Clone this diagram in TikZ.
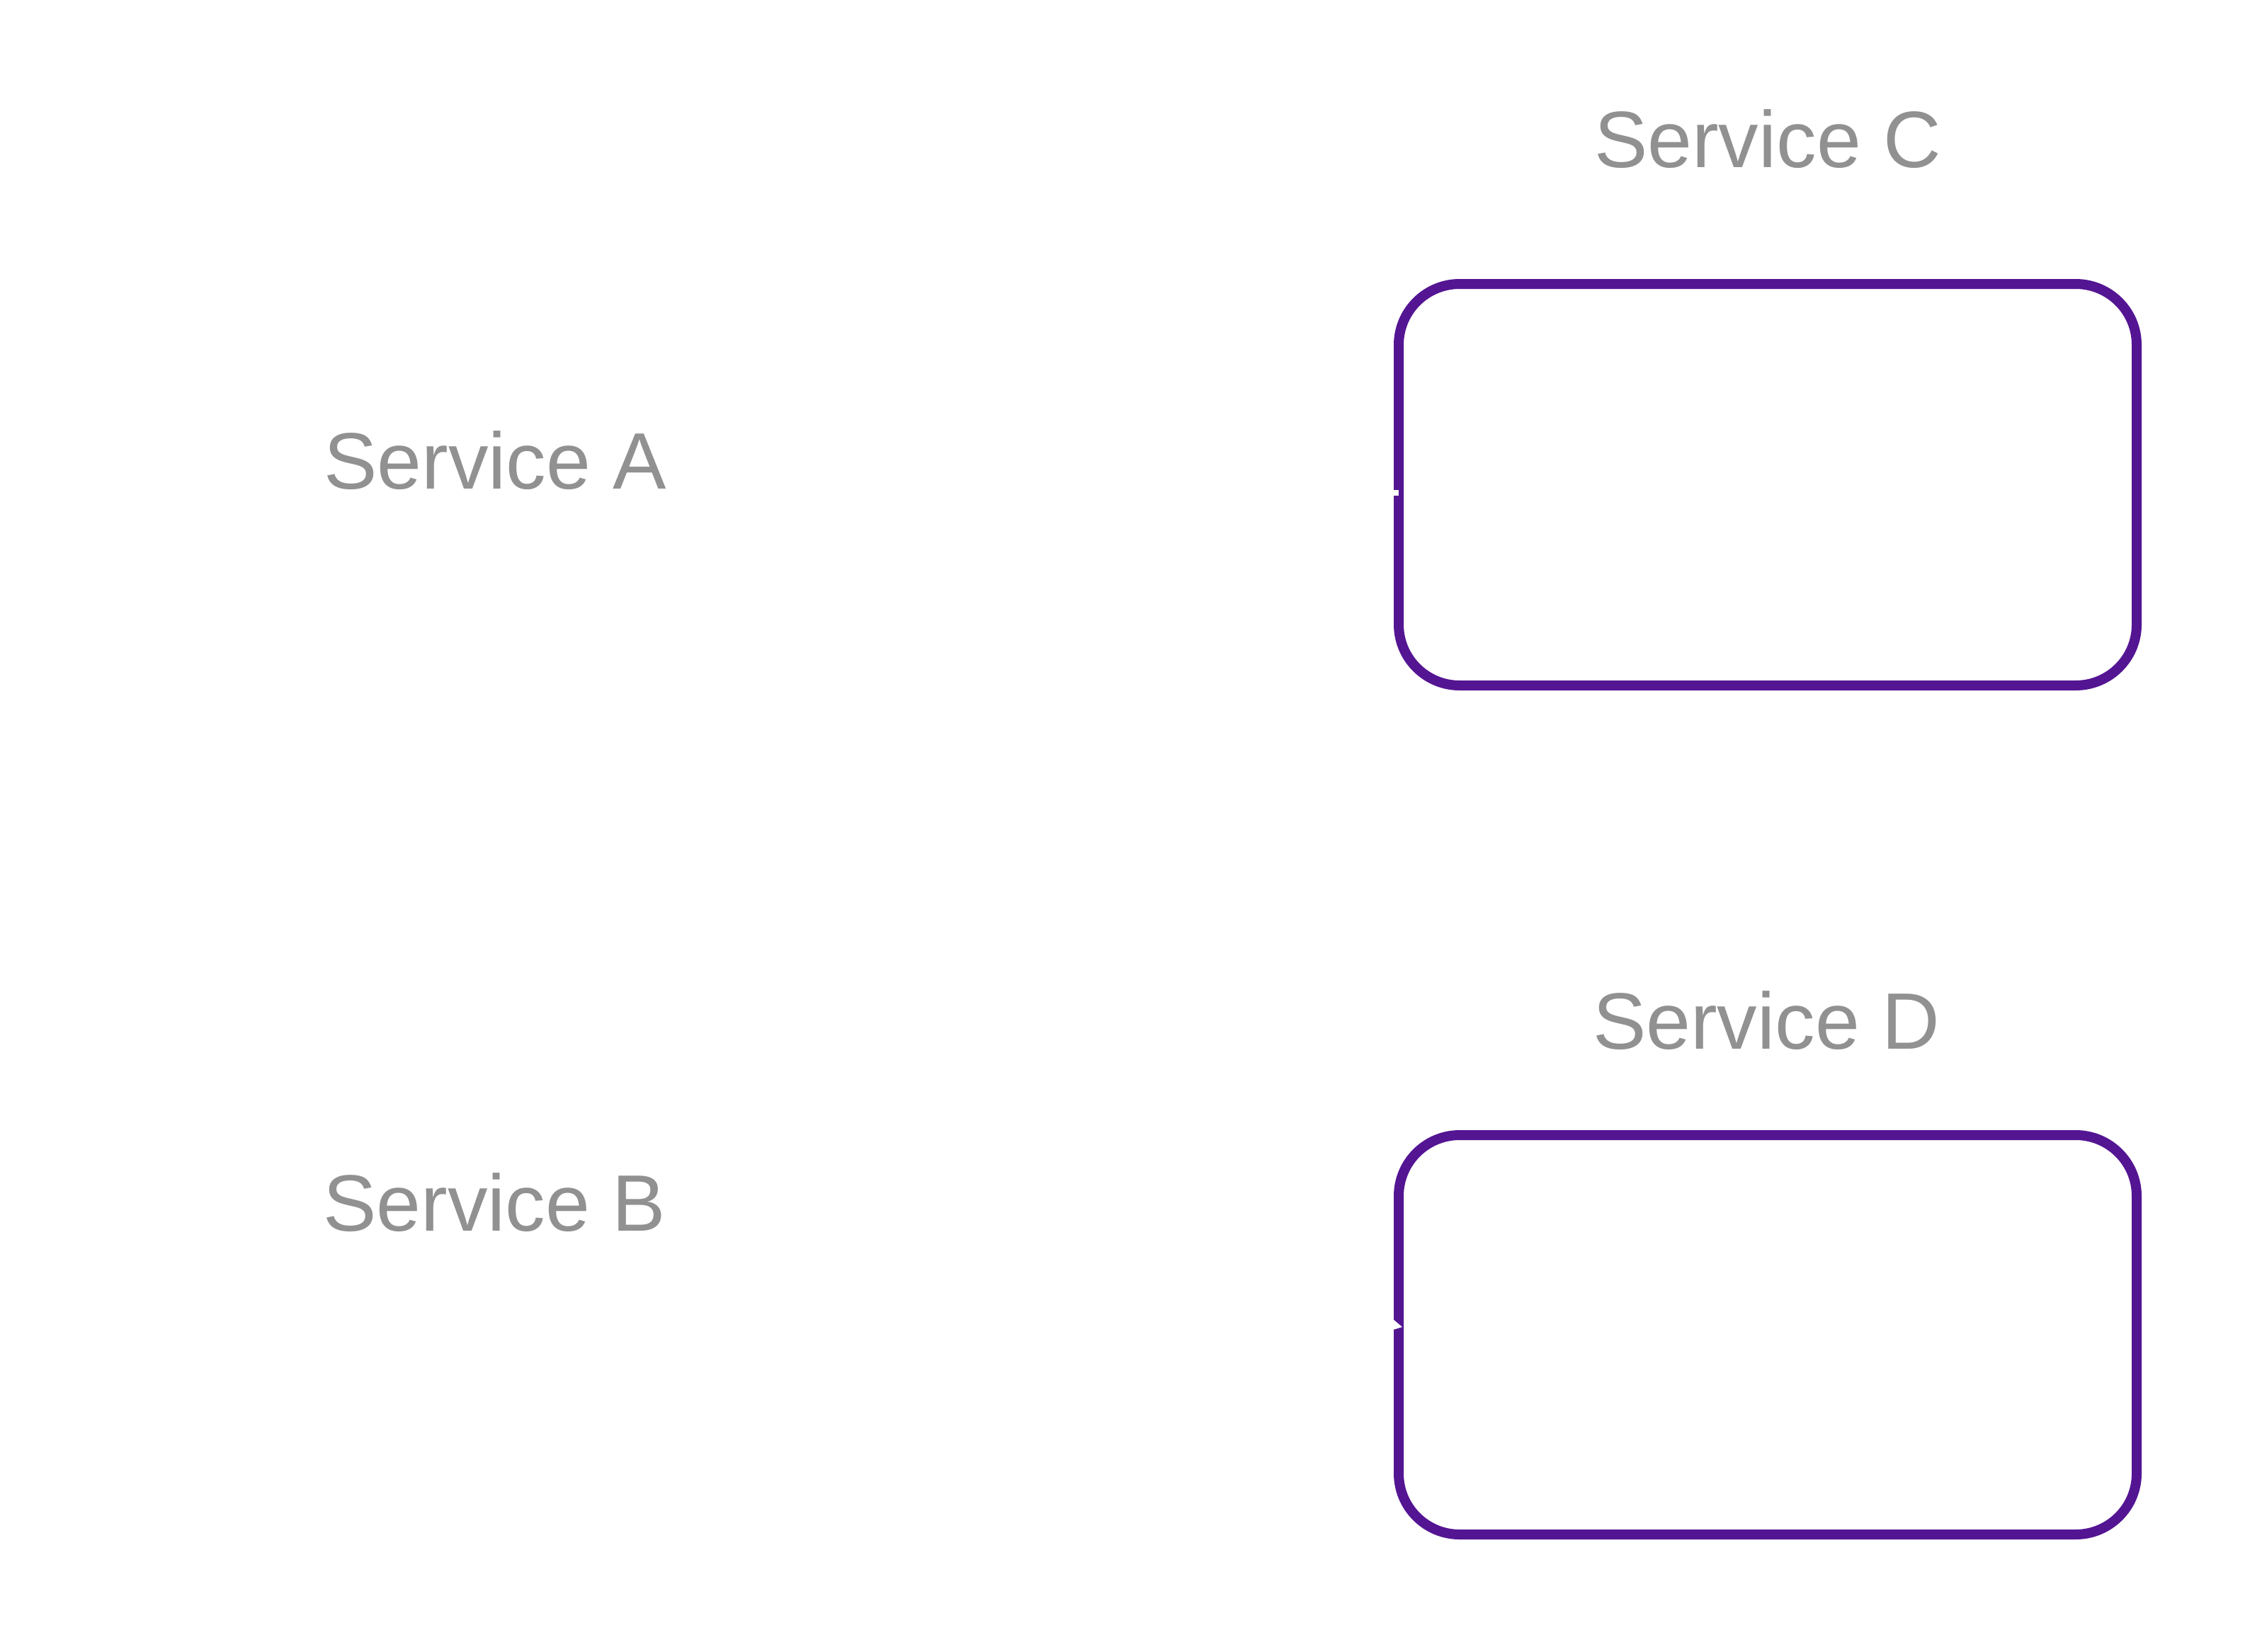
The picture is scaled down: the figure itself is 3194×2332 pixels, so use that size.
\documentclass[tikz,border=0pt]{standalone}
\usepackage{fontspec}
\setmainfont{Liberation Sans}
\usetikzlibrary{arrows.meta,calc}
\definecolor{boxpurple}{RGB}{84,21,147}
\definecolor{labelgray}{RGB}{145,145,145}
\begin{document}
\begin{tikzpicture}[x=1pt,y=-1pt,
  svcbox/.style={draw=boxpurple,line width=14pt,rounded corners=86pt},
  svclabel/.style={text=labelgray,font=\fontsize{113}{135}\selectfont,inner sep=0pt,anchor=base},
  hidden/.style={draw=white,line width=8pt}]
\useasboundingbox[fill=white] (0,0) rectangle (3194,2332);
\node[svclabel] (A) at (699,690) {Service A};
\node[svclabel] (B) at (698,1738) {Service B};
\node[svclabel] (Clab) at (2496,236) {Service C};
\node[svclabel] (Dlab) at (2494,1481) {Service D};
\draw[svcbox] (1975,401) rectangle (3017,968);
\draw[svcbox] (1975,1603) rectangle (3017,2167);
\coordinate (C) at (1975,696);
\coordinate (D) at (1980,1874);
\draw[hidden] ($(A.east |- C)+(40,0)$) -- (C);
\draw[hidden,-{Stealth[length=48pt,width=52pt]}] ($(B.east)+(40,-30)$) -- (D);
\end{tikzpicture}
\end{document}
